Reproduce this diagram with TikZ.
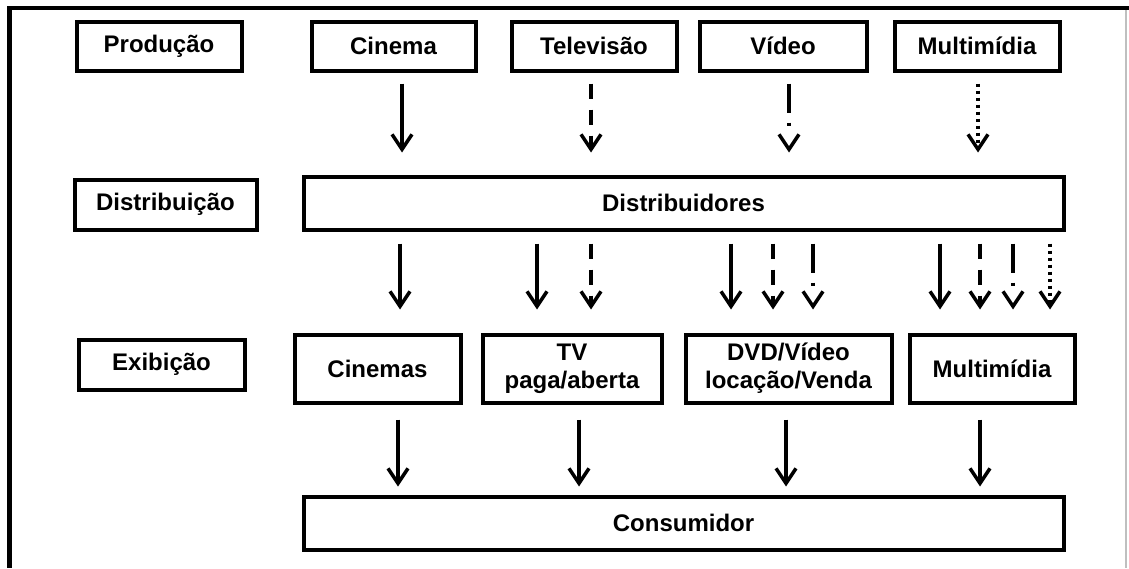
\documentclass[tikz,border=0pt]{standalone}
\usepackage{fontspec}
\setmainfont{Liberation Sans}
\usetikzlibrary{arrows.meta,positioning}

\begin{document}
\begin{tikzpicture}[x=1pt, y=-1pt,
    every node/.append style={align=center},
    box/.style={draw, line width=4pt, inner sep=0pt,
      font=\bfseries\fontsize{24}{28}\selectfont},
    arr/.style={-{Straight Barb[length=15pt,width=20pt]}, line width=3.5pt},
    dsh/.style={dash pattern=on 15pt off 11pt},
    dshdot/.style={dash pattern=on 29pt off 10pt on 3pt off 20pt},
    dots/.style={dash pattern=on 3pt off 4pt}]
    \useasboundingbox (0,0) rectangle (1129,568);

    % frame
    \fill (7,6) rectangle (1129,10);
    \fill (7,6) rectangle (12,568);
    \draw[gray!50, line width=1.5pt] (1126,10) -- (1126,568);

    % produção
   \node [box, minimum width=165, minimum height=49] (prod) at (159,46)   {Produção};
   \node [box, minimum width=164, minimum height=49] (cin)  at (393.5,46) {Cinema};
   \node [box, minimum width=165, minimum height=49] (tel)  at (594,46)   {Televisão};
   \node [box, minimum width=167, minimum height=49] (vid)  at (783,46)   {Vídeo};
   \node [box, minimum width=165, minimum height=49] (mul)  at (977,46)   {Multimídia};

    % distribuição
   \node [box, minimum width=182, minimum height=50] (distr) at (165.5,204.5) {Distribuição};
   \node [box, minimum width=760, minimum height=53] (dists) at (683.5,203)   {Distribuidores};

    % exibição
   \node [box, minimum width=166, minimum height=50] (exib)    at (161.5,364.5) {Exibição};
   \node [box, minimum width=166, minimum height=68] (cinemas) at (377.5,368.5) {Cinemas};
   \node [box, minimum width=179, minimum height=68] (tv)      at (572,368.5)   {TV\\paga/aberta};
   \node [box, minimum width=206, minimum height=68] (dvd)     at (788.5,368.5) {DVD/Vídeo\\locação/Venda};
   \node [box, minimum width=165, minimum height=68] (mule)    at (992,368.5)   {Multimídia};

   \node [box, minimum width=760, minimum height=53] (cons) at (683.5,523) {Consumidor};

   \path[arr, shorten <=11pt, shorten >=22pt]
   (cin.south -| 402,0) edge (dists.north -| 402,0)
   (tel.south -| 591,0) edge[dsh] (dists.north -| 591,0)
   (vid.south -| 789,0) edge[dshdot] (dists.north -| 789,0)
   (mul.south -| 978,0) edge[dots] (dists.north -| 978,0);

   \path[arr, shorten <=12pt, shorten >=23pt]
   (dists.south -| 400,0)  edge (cinemas.north -| 400,0)
   (dists.south -| 537,0)  edge (tv.north -| 537,0)
   (dists.south -| 591,0)  edge[dsh] (tv.north -| 591,0)
   (dists.south -| 731,0)  edge (dvd.north -| 731,0)
   (dists.south -| 773,0)  edge[dsh] (dvd.north -| 773,0)
   (dists.south -| 813,0)  edge[dshdot] (dvd.north -| 813,0)
   (dists.south -| 940,0)  edge (mule.north -| 940,0)
   (dists.south -| 980,0)  edge[dsh] (mule.north -| 980,0)
   (dists.south -| 1013,0) edge[dshdot] (mule.north -| 1013,0)
   (dists.south -| 1050,0) edge[dots] (mule.north -| 1050,0);

   \path[arr, shorten <=15pt, shorten >=8pt]
   (cinemas.south -| 398,0) edge (cons.north -| 398,0)
   (tv.south -| 579,0)      edge (cons.north -| 579,0)
   (dvd.south -| 786,0)     edge (cons.north -| 786,0)
   (mule.south -| 980,0)    edge (cons.north -| 980,0);
\end{tikzpicture}
\end{document}
